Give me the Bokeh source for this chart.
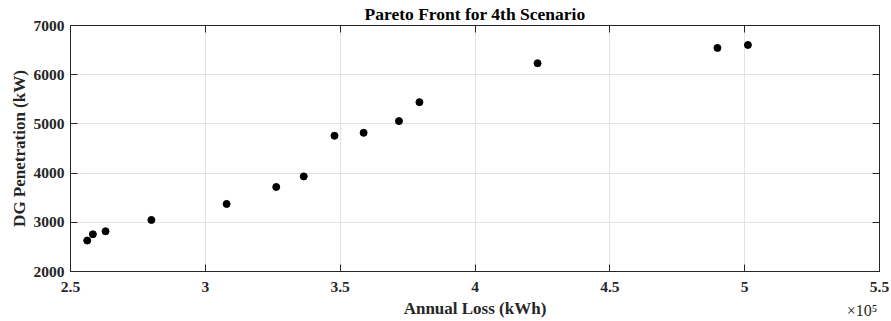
from bokeh.plotting import figure
from bokeh.models import Range1d, FixedTicker, LinearAxis, Title, ColumnDataSource
from bokeh.embed import file_html
from bokeh.resources import INLINE

# Data (annual loss in kWh, DG penetration in kW)
annual_loss = [256200, 258300, 263000, 280000, 307900, 326300, 336500,
               347900, 358700, 371800, 379400, 423200, 489900, 501200]
dg_penetration = [2629, 2757, 2817, 3048, 3373, 3718, 3933,
                  4759, 4819, 5057, 5442, 6233, 6544, 6604]

x_ticks = [250000, 300000, 350000, 400000, 450000, 500000, 550000]
x_tick_labels = ["2.5", "3", "3.5", "4", "4.5", "5", "5.5"]
y_ticks = [2000, 3000, 4000, 5000, 6000, 7000]

title_text = "Pareto Front for 4th Scenario"
x_label = "Annual Loss (kWh)"
y_label = "DG Penetration (kW)"
exponent_text = "\u00d710\u2075"
exponent_anchor = 543500   # where the exponent note is centred (layout only)

FONT = "Liberation Serif"
AX = "#262626"
GRID = "#e3e3e3"

p = figure(width=891, height=321, output_backend="svg", toolbar_location=None,
           x_range=Range1d(250000, 550000), y_range=Range1d(2000, 7000),
           min_border_left=70, min_border_right=12, min_border_top=25,
           min_border_bottom=50, background_fill_color="white",
           border_fill_color="white")
p.outline_line_color = AX
p.outline_line_width = 1

src = ColumnDataSource(dict(x=annual_loss, y=dg_penetration))
p.scatter("x", "y", source=src, size=7, color="black", marker="circle")

xt = FixedTicker(ticks=x_ticks)
yt = FixedTicker(ticks=y_ticks)
overrides = {t: l for t, l in zip(x_ticks, x_tick_labels)}

for ax in p.xaxis:
    ax.ticker = xt
    ax.major_label_overrides = overrides
for ax in p.yaxis:
    ax.ticker = yt

p.xgrid.ticker = xt
p.ygrid.ticker = yt
p.xgrid.grid_line_color = GRID
p.ygrid.grid_line_color = GRID


def style(ax, labels=True):
    ax.axis_line_color = AX
    ax.axis_line_width = 1
    ax.major_tick_line_color = AX
    ax.major_tick_in = 7
    ax.major_tick_out = 0
    ax.minor_tick_line_color = None
    ax.major_label_text_font = FONT
    ax.major_label_text_font_style = "bold"
    ax.major_label_text_font_size = "15.5px" if labels else "0px"
    ax.major_label_text_color = AX
    ax.axis_label_text_font = FONT
    ax.axis_label_text_font_style = "bold"
    ax.axis_label_text_font_size = "17px"
    ax.axis_label_text_color = AX


style(p.xaxis[0])
style(p.yaxis[0])
p.xaxis[0].major_label_standoff = 10
p.yaxis[0].major_label_standoff = 6
p.yaxis[0].axis_label = y_label
p.yaxis[0].axis_label_standoff = 2

# helper axis below: carries the exponent note and the x axis title
helper = LinearAxis(ticker=FixedTicker(ticks=[exponent_anchor]),
                    major_label_overrides={exponent_anchor: exponent_text})
style(helper)
helper.axis_line_color = None
helper.major_tick_line_color = None
helper.major_tick_in = 0
helper.major_label_text_font_style = "normal"
helper.major_label_text_font_size = "16px"
helper.major_label_standoff = 7
helper.axis_label = x_label
helper.axis_label_standoff = -23
p.add_layout(helper, "below")

top = LinearAxis(ticker=xt, major_label_overrides={t: "" for t in x_ticks})
right = LinearAxis(ticker=yt, major_label_overrides={t: "" for t in y_ticks})
style(top, labels=False)
style(right, labels=False)
top.major_label_standoff = 0
right.major_label_standoff = 0
p.add_layout(top, "above")
p.add_layout(right, "right")

p.add_layout(Title(text=title_text, align="center", text_font=FONT,
                   text_font_style="bold", text_font_size="17.5px",
                   text_color="black", standoff=3), "above")

open("out.html", "w").write(file_html(p, INLINE))
